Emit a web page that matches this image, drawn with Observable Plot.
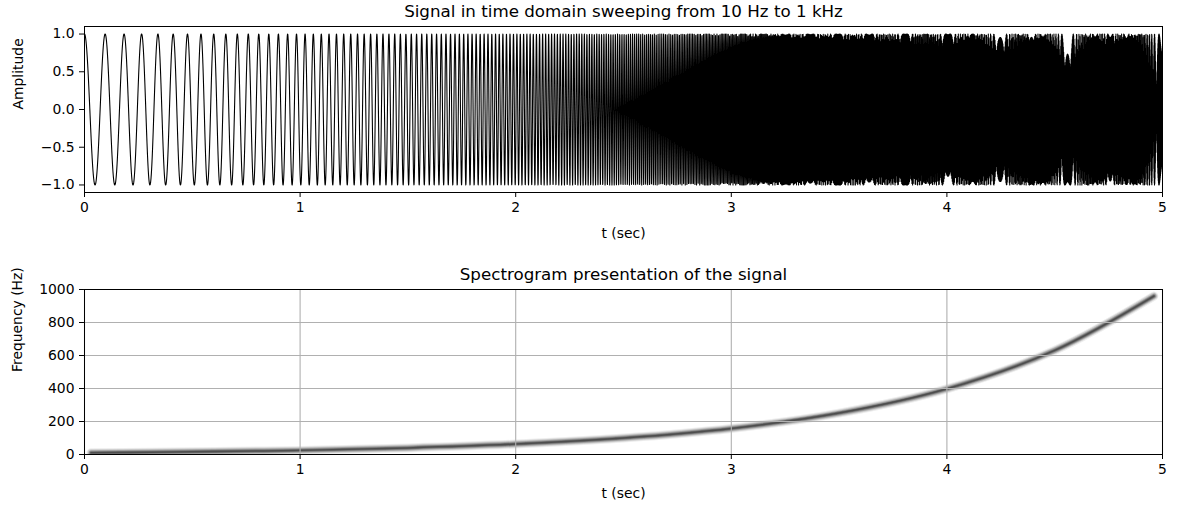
<!DOCTYPE html>
<html>
<head>
<meta charset="utf-8">
<script src="https://cdn.jsdelivr.net/npm/d3@7"></script>
<script src="https://cdn.jsdelivr.net/npm/@observablehq/plot@0.6"></script>
<style>
  html, body { margin: 0; padding: 0; background: #fff; }
  #chart { width: 1178px; height: 509px; position: relative; }
  #chart svg { display: block; }
</style>
</head>
<body>
<div id="chart"></div>
<script>
// ---- data ----
const sweepHz = [10, 1000];        // start / end frequency (title)
const durationSec = 5;             // x extent
const sampleRate = 2000;           // spectrogram tops out at Nyquist = 1000 Hz
const timeTicks = [0, 1, 2, 3, 4, 5];
const ampTicks = [-1, -0.5, 0, 0.5, 1];
const freqTicks = [0, 200, 400, 600, 800, 1000];
// ridge of the spectrogram
const ridgeTime = [0.03, 0.5, 1.0, 1.5, 2.0, 2.5, 3.0, 3.5, 4.0, 4.5, 4.96];
const ridgeFreq = [10, 16, 25, 40, 63, 100, 158, 251, 398, 631, 960];

const titleTop = "Signal in time domain sweeping from 10 Hz to 1 kHz";
const titleBottom = "Spectrogram presentation of the signal";
const xLabel = "t (sec)";
const yLabelTop = "Amplitude";
const yLabelBottom = "Frequency (Hz)";

// logarithmic chirp sampled at sampleRate (parameters from the title)
const [f0, f1] = sweepHz;
const kLog = Math.log(f1 / f0);
const signal = d3.range(durationSec * sampleRate).map(n => {
  const t = n / sampleRate;
  return {t, a: Math.cos(2 * Math.PI * f0 * durationSec / kLog * (Math.pow(f1 / f0, t / durationSec) - 1))};
});
const ridge = ridgeTime.map((t, i) => ({t, f: ridgeFreq[i]}));

const FONT = "DejaVu Sans, sans-serif";
const minus = s => s.replace("-", "\u2212");
const common = {
  width: 1178,
  marginLeft: 84,
  marginRight: 16,
  style: {fontFamily: FONT, fontSize: "13.9px", color: "#000", background: "#fff"}
};
const txt = (s, o) => Plot.text([s], {text: d => d, fontFamily: FONT, fill: "#000", ...o});

const topChart = Plot.plot({
  ...common,
  height: 250,
  marginTop: 26,
  marginBottom: 58,
  x: {domain: [0, 5], ticks: timeTicks, tickSize: 5, tickPadding: 5, tickFormat: d => String(d), label: null},
  y: {domain: [-1.1, 1.1], ticks: ampTicks, tickSize: 5, tickPadding: 5, tickFormat: d => minus(d.toFixed(1)), label: null},
  marks: [
    Plot.line(signal, {x: "t", y: "a", stroke: "#000", strokeWidth: 1.1}),
    Plot.frame({stroke: "#000", strokeWidth: 1}),
    txt(titleTop, {frameAnchor: "top", dy: -15, fontSize: 16.7, lineAnchor: "middle"}),
    txt(xLabel, {frameAnchor: "bottom", dy: 41, fontSize: 13.9, lineAnchor: "middle"}),
    txt(yLabelTop, {frameAnchor: "left", dx: -66, rotate: -90, fontSize: 13.9, lineAnchor: "middle"})
  ]
});

// spectrogram band drawn as stacked soft strokes
const band = [[9, 0.07], [7, 0.13], [5, 0.22], [3, 0.3], [1.5, 0.3]];

const bottomChart = Plot.plot({
  ...common,
  height: 259,
  marginTop: 39,
  marginBottom: 55,
  x: {domain: [0, 5], ticks: timeTicks, tickSize: 5, tickPadding: 5, tickFormat: d => String(d), label: null},
  y: {domain: [0, 1000], ticks: freqTicks, tickSize: 5, tickPadding: 5, tickFormat: d => String(d), label: null},
  marks: [
    ...band.map(([w, o]) => Plot.line(ridge, {x: "t", y: "f", stroke: "#000", strokeOpacity: o, strokeWidth: w, curve: "catmull-rom", clip: true})),
    Plot.ruleX(timeTicks, {stroke: "#b0b0b0", strokeWidth: 1.1}),
    Plot.ruleY(freqTicks, {stroke: "#b0b0b0", strokeWidth: 1.1}),
    Plot.frame({stroke: "#000", strokeWidth: 1}),
    txt(titleBottom, {frameAnchor: "top", dy: -15, fontSize: 16.7, lineAnchor: "middle"}),
    txt(xLabel, {frameAnchor: "bottom", dy: 39, fontSize: 13.9, lineAnchor: "middle"}),
    txt(yLabelBottom, {frameAnchor: "left", dx: -67, rotate: -90, fontSize: 13.9, lineAnchor: "middle"})
  ]
});

const root = document.getElementById("chart");
root.appendChild(topChart);
root.appendChild(bottomChart);
</script>
</body>
</html>
